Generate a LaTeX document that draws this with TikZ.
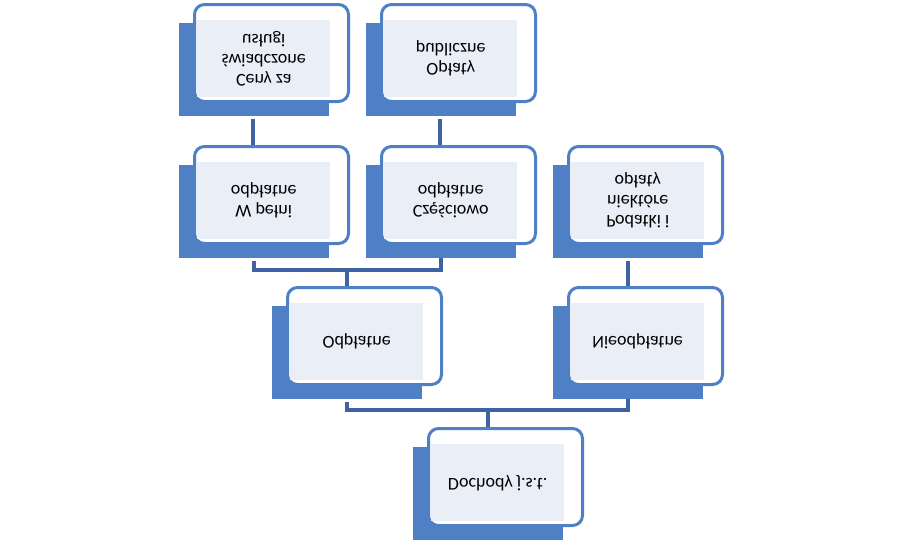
\documentclass[tikz,border=0pt]{standalone}
\usepackage{fontspec}
\setmainfont{Carlito}
\definecolor{dk}{HTML}{4F7FC4}
\definecolor{ln}{HTML}{3F63A2}
\definecolor{lt}{HTML}{E9EEF7}
\tikzset{
 darkbox/.style={fill=dk,draw=none,minimum width=150pt,minimum height=93pt,anchor=north west,inner sep=0},
 frontbox/.style={fill=white,draw=dk,line width=3pt,rounded corners=10pt,minimum width=154pt,minimum height=97pt,anchor=north west,inner sep=0},
 innerbox/.style={fill=lt,draw=none,minimum width=133pt,minimum height=77pt,anchor=north west,inner sep=0},
 lbl/.style={transform shape,align=center,font=\fontsize{18}{20}\selectfont,text=black},
 conn/.style={draw=ln,line width=3.5pt}
}
\newcommand{\pbox}[4]{%
 \node[darkbox] (#1) at (#2,#3+20) {};
 \node[frontbox] (#1f) at (#2+14,#3) {};
 \node[innerbox] (#1i) at (#2+18,#3+17) {};
 \node[lbl] (#1t) at (#1i.center) {#4};
}
\begin{document}
\begin{tikzpicture}[x=1pt,y=1pt,yscale=-1]
\useasboundingbox (0,0) rectangle (899,544);
\coordinate (m1) at (0,270);
\coordinate (m2) at (0,410);
\pbox{ceny}{179}{3}{Ceny za\\świadczone\\usługi}
\pbox{opl}{366}{3}{Opłaty\\publiczne}
\pbox{wp}{179}{145}{W pełni\\odpłatne}
\pbox{cz}{366}{145}{Częściowo\\odpłatne}
\pbox{pod}{553}{145}{Podatki i\\niektóre\\opłaty}
\pbox{odp}{272}{286}{Odpłatne}
\pbox{nie}{553}{286}{Nieodpłatne}
\pbox{doc}{413}{427}{Dochody j.s.t.}
\draw[conn] (ceny.south) ++(-1,3) -- ([xshift=-1pt]ceny.south |- wpf.north);
\draw[conn] (opl.south) ++(-1,3) -- ([xshift=-1pt]opl.south |- czf.north);
\draw[conn] (pod.south) ++(0,3) -- (pod.south |- nief.north);
\draw[conn] (wp.south) ++(0,3) -- (wp.south |- m1) -- (cz.south |- m1) -- ++(0,-12);
\draw[conn] (odp.north |- m1) -- (odp.north |- odpf.north);
\draw[conn] (odp.south) ++(0,3) -- (odp.south |- m2) -- (nie.south |- m2) -- ++(0,-11);
\draw[conn] (doc.north |- m2) -- (doc.north |- docf.north);
\end{tikzpicture}
\end{document}
